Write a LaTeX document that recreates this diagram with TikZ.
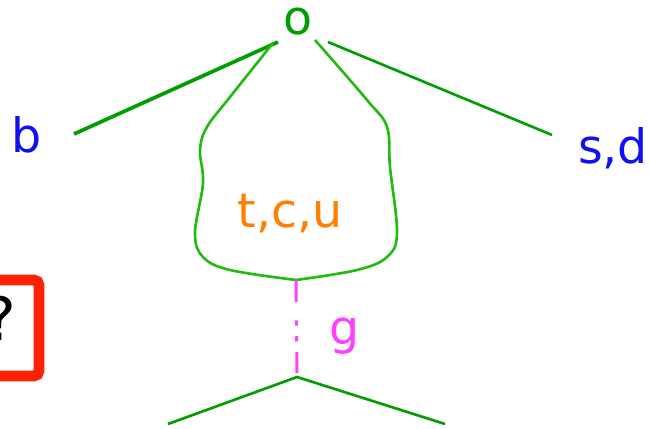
\documentclass[tikz,border=0pt]{standalone}
\usepackage{fontspec}
\setmainfont{DejaVu Sans}
\usetikzlibrary{positioning}

\definecolor{darkgr}{HTML}{009E00}
\definecolor{loopgr}{HTML}{22BB11}
\definecolor{quarkbl}{HTML}{1010F0}
\definecolor{quarkor}{HTML}{FF8000}
\definecolor{gluonmg}{HTML}{FF40FF}
\definecolor{boxred}{HTML}{FF2200}

\begin{document}
\begin{tikzpicture}[
    x=0.02cm, y=-0.02cm,
    lbl/.style={inner sep=0pt, font=\fontsize{27}{32}\selectfont},
    leg/.style={darkgr, line width=1.5pt},
    loopline/.style={loopgr, line width=1.5pt},
    gluon/.style={gluonmg, line width=1.7pt,
        dash pattern=on 12.5pt off 10.5pt on 3pt off 6pt on 3pt off 6pt on 12pt}
]
\useasboundingbox (0,0) rectangle (649,429);

% labels
\node[lbl, darkgr] (top) at (298,22) {o};
\node[lbl, quarkbl] (bq) at (27,135) {b};
\node[lbl, quarkbl] (sd) at (613,148) {s,d};
\node[lbl, quarkor] (tcu) at (290,214) {t,c,u};
\node[lbl, gluonmg] (glu) at (345,336) {g};
\node[lbl, font=\fontsize{34}{40}\selectfont] (qm) at (0,318) {?};

% end points
\coordinate (bl) at (278,42);
\coordinate (br) at (328,42);
\coordinate (bend) at (74,134);
\coordinate (sdend) at (552,135);
\coordinate (vtx) at (296,280);
\coordinate (vbot) at (297,377);
\coordinate (outl) at (168,424);
\coordinate (outr) at (445,424);

% external legs
\draw[leg, line width=2.1pt] (bl) -- (bend);
\draw[leg] (br) -- (sdend);

% loop
\draw[loopline] plot[smooth, tension=0.6] coordinates
    {(273,43) (230,97) (207,127) (200,150) (203,183) (195,233) (203,257) (230,270) (vtx)};
\draw[loopline] plot[smooth, tension=0.6] coordinates
    {(315,40) (367,100) (387,127) (390,167) (397,233) (387,257) (357,270) (vtx)};

% gluon
\draw[gluon] (vtx) -- (vbot);
\draw[leg] (outl) -- (vbot) -- (outr);

% box
\draw[boxred, line width=6.2pt, rounded corners=3pt]
    (-60,280) rectangle (39,376);
\end{tikzpicture}
\end{document}
